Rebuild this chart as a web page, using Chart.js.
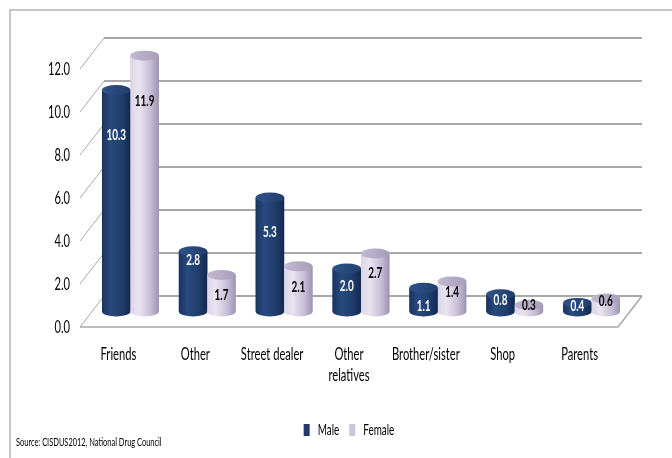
<!DOCTYPE html>
<html><head><meta charset="utf-8">
<script src="https://cdn.jsdelivr.net/npm/chart.js@4.4.0/dist/chart.umd.min.js"></script>
<style>html,body{margin:0;padding:0;background:#fff;overflow:hidden}canvas{display:block}</style>
</head><body>
<canvas id="c" width="672" height="458"></canvas>
<script>
// ---- data ----
const categories = ['Friends', 'Other', 'Street dealer', ['Other', 'relatives'], 'Brother/sister', 'Shop', 'Parents'];
const seriesNames = ['Male', 'Female'];
const maleValues = [10.3, 2.8, 5.3, 2.0, 1.1, 0.8, 0.4];
const femaleValues = [11.9, 1.7, 2.1, 2.7, 1.4, 0.3, 0.6];
const yTicks = [0, 2, 4, 6, 8, 10, 12];
const sourceNote = 'Source: CISDUS2012, National Drug Council';

// ---- style ----
const FONT = "Lato, 'Open Sans', sans-serif";
const DEPTH = { dx: 24, dy: -31 };
const MID = { dx: 12, dy: -15.5 };
const GRID = '#a8a8a8';

// The reference text is horizontally condensed; compute one uniform condensing factor.
const K = (() => {
  const c = document.createElement('canvas').getContext('2d');
  c.font = '18px ' + FONT;
  const w = ['Friends', 'Street dealer', 'Brother/sister', 'Parents']
    .reduce((s, t) => s + c.measureText(t).width, 0);
  return 203 / w;
})();

function line(ctx, x1, y1, x2, y2) { ctx.beginPath(); ctx.moveTo(x1, y1); ctx.lineTo(x2, y2); ctx.stroke(); }

const condensed = {
  id: 'condensed',
  beforeInit(chart) {
    const ctx = chart.ctx;
    const fill = ctx.fillText.bind(ctx);
    const measure = ctx.measureText.bind(ctx);
    ctx.fillText = function (t, x, y) {
      ctx.save(); ctx.translate(x, y); ctx.scale(K, 1); fill(t, 0, 0); ctx.restore();
    };
    ctx.measureText = function (t) {
      const m = measure(t);
      return { width: m.width * K,
        actualBoundingBoxAscent: m.actualBoundingBoxAscent,
        actualBoundingBoxDescent: m.actualBoundingBoxDescent,
        actualBoundingBoxLeft: m.actualBoundingBoxLeft * K,
        actualBoundingBoxRight: m.actualBoundingBoxRight * K };
    };
  }
};

const threeD = {
  id: 'threeD',
  beforeDraw(chart) {
    const ctx = chart.ctx;
    ctx.save();
    ctx.strokeStyle = '#c6c6c6';
    ctx.lineWidth = 2;
    ctx.beginPath(); ctx.moveTo(10, 458); ctx.lineTo(10, 10); ctx.lineTo(672, 10); ctx.stroke();
    ctx.font = '12px ' + FONT;
    ctx.fillStyle = '#000';
    ctx.textAlign = 'left';
    ctx.textBaseline = 'middle';
    ctx.fillText(sourceNote, 16, 442);
    ctx.restore();
  },
  beforeDatasetsDraw(chart) {
    const ctx = chart.ctx, ys = chart.scales.y;
    const L = chart.chartArea.left, R = chart.chartArea.right;
    ctx.save();
    ctx.strokeStyle = GRID;
    yTicks.forEach(v => {
      const y = ys.getPixelForValue(v);
      ctx.lineWidth = 1;
      line(ctx, L, y, L + DEPTH.dx, y + DEPTH.dy);
      ctx.lineWidth = 2;
      line(ctx, L + DEPTH.dx, y + DEPTH.dy, R + DEPTH.dx, y + DEPTH.dy);
    });
    const y0 = ys.getPixelForValue(0);
    ctx.lineWidth = 1.5;
    ctx.beginPath();
    ctx.moveTo(L, y0); ctx.lineTo(R, y0); ctx.lineTo(R + DEPTH.dx, y0 + DEPTH.dy);
    ctx.stroke();
    ctx.restore();
    ctx.save();
    ctx.translate(MID.dx, MID.dy);
  },
  afterDatasetsDraw(chart, args, opts) {
    const ctx = chart.ctx;
    const looks = [
      { body: ['#1a335e', '#284a7e', '#1f3d6c', '#132850'], cap: ['#30528a', '#213f6d'], text: '#fff' },
      { body: ['#dcd5e7', '#e9e4f0', '#c8bed8', '#9d93b1'], cap: ['#c2b8d1', '#a79eba'], text: '#000' }
    ];
    const drawn = [];
    chart.data.datasets.forEach((ds, i) => {
      const meta = chart.getDatasetMeta(i);
      const lk = looks[i];
      meta.data.forEach((bar, j) => {
        const p = bar.getProps(['x', 'y', 'base', 'width'], true);
        const rx = p.width / 2, ry = 5, l = p.x - rx, r = p.x + rx;
        const g = ctx.createLinearGradient(l, 0, r, 0);
        g.addColorStop(0, lk.body[0]); g.addColorStop(0.3, lk.body[1]);
        g.addColorStop(0.7, lk.body[2]); g.addColorStop(1, lk.body[3]);
        ctx.fillStyle = g;
        ctx.beginPath();
        ctx.moveTo(l, p.y); ctx.lineTo(l, p.base);
        ctx.ellipse(p.x, p.base, rx, ry, 0, Math.PI, 0, true);
        ctx.lineTo(r, p.y);
        ctx.closePath();
        ctx.fill();
        const cg = ctx.createLinearGradient(l, 0, r, 0);
        cg.addColorStop(0, lk.cap[0]); cg.addColorStop(1, lk.cap[1]);
        ctx.fillStyle = cg;
        ctx.beginPath();
        ctx.ellipse(p.x, p.y, rx, ry, 0, 0, Math.PI * 2);
        ctx.fill();
        drawn.push({ x: p.x, y: p.y + opts.labelOffsets[i][j], t: ds.data[j].toFixed(1), c: lk.text });
      });
    });
    ctx.font = 'bold 16px ' + FONT;
    ctx.textAlign = 'center';
    ctx.textBaseline = 'middle';
    drawn.forEach(d => { ctx.fillStyle = d.c; ctx.fillText(d.t, d.x, d.y); });
    ctx.restore();
  }
};

new Chart(document.getElementById('c'), {
  type: 'bar',
  data: {
    labels: categories,
    datasets: [
      { label: seriesNames[0], data: maleValues, backgroundColor: '#1f3a68', borderWidth: 0 },
      { label: seriesNames[1], data: femaleValues, backgroundColor: '#cdc3dc', borderWidth: 0 }
    ]
  },
  options: {
    responsive: false,
    animation: false,
    devicePixelRatio: 1,
    categoryPercentage: 0.74,
    barPercentage: 1,
    layout: { padding: { top: 69, right: 54, bottom: 10, left: 0 } },
    scales: {
      x: {
        grid: { display: false, drawTicks: false },
        border: { display: false },
        ticks: { color: '#000', padding: 16, maxRotation: 0, autoSkip: false,
                 font: { family: FONT, size: 18, lineHeight: 1.2 } },
        afterFit(s) { s.height = 85; }
      },
      y: {
        min: 0, max: 12,
        grid: { display: false, drawTicks: false },
        border: { display: false },
        afterBuildTicks(s) { s.ticks = yTicks.map(v => ({ value: v })); },
        ticks: { color: '#000', padding: 10, callback: v => Number(v).toFixed(1),
                 font: { family: FONT, size: 18 } },
        afterFit(s) { s.width = 80; }
      }
    },
    plugins: {
      tooltip: { enabled: false },
      legend: {
        position: 'bottom', fullSize: false,
        labels: { boxWidth: 6, boxHeight: 12, padding: 10, color: '#000',
                  font: { family: FONT, size: 16 } }
      },
      threeD: { labelOffsets: [[45, 9, 34, 17, 18, 6, 3], [45, 20, 20, 19, 10, 0, 2]] }
    }
  },
  plugins: [condensed, threeD]
});
</script>
</body></html>
